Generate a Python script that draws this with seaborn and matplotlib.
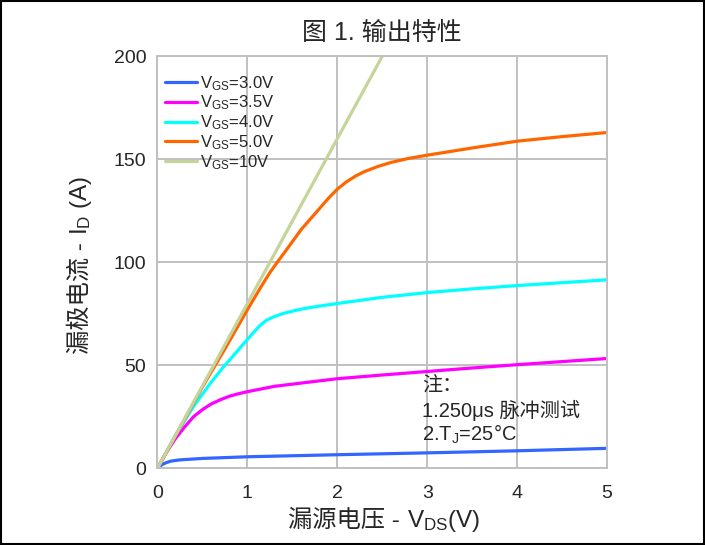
import matplotlib
matplotlib.use("Agg")
import matplotlib.pyplot as plt
import matplotlib.transforms as mtransforms
import numpy as np
import pandas as pd
import seaborn as sns
from matplotlib.patches import Rectangle

# 输出特性曲线数据
vgs_labels = ["3.0V", "3.5V", "4.0V", "5.0V", "10V"]

vds_30 = [0, 0.05, 0.1, 0.15, 0.25, 0.5, 1.0, 1.5, 2.0, 3.0, 4.0, 5.0]
id_30 = [0, 1.8, 2.8, 3.5, 4.1, 4.8, 5.6, 6.1, 6.6, 7.5, 8.5, 9.7]

vds_35 = [0, 0.1, 0.2, 0.3, 0.4, 0.5, 0.6, 0.7, 0.8, 0.9, 1.0, 1.3, 1.64, 2.0, 2.5, 3.0,
          3.5, 4.0, 4.5, 5.0]
id_35 = [0, 7.8, 14.5, 20, 25, 28.5, 31.3, 33.3, 35, 36.2, 37.2, 39.8, 41.6, 43.5, 45.3, 47,
         48.7, 50.3, 51.8, 53.3]

vds_40 = [0, 0.1, 0.2, 0.3, 0.4, 0.5, 0.6, 0.73, 0.87, 1.0, 1.07, 1.14, 1.21, 1.29, 1.4, 1.51,
          1.65, 1.81, 2.0, 2.5, 3.0, 3.5, 4.0, 4.5, 5.0]
id_40 = [0, 8, 16, 23, 30, 36, 42, 49, 56, 62.6, 66, 69.3, 71.8, 73.5, 75.2, 76.4,
         77.7, 78.8, 80, 83, 85.3, 87.1, 88.7, 90.1, 91.5]

vds_50 = [0, 0.5, 0.75, 1.0, 1.15, 1.25, 1.34, 1.45, 1.5, 1.6, 1.7, 1.8, 1.9, 2.0, 2.1,
          2.2, 2.3, 2.45, 2.6, 2.8, 3.0, 3.5, 4.0, 4.5, 5.0]
id_50 = [0, 39.5, 58, 77, 88, 95, 100.5, 107, 110, 116, 121, 126, 131, 135.5, 139,
         141.8, 144, 146.5, 148.5, 150.5, 152, 155.5, 158.8, 161, 163]

vds_10 = [0, 2.5]
id_10 = [0, 200]

colors = {"3.0V": "#3366ff", "3.5V": "#ff00ff", "4.0V": "#00ffff",
          "5.0V": "#ff6600", "10V": "#c4d49a"}

frames = []
for lab, xs, ys in zip(vgs_labels,
                       [vds_30, vds_35, vds_40, vds_50, vds_10],
                       [id_30, id_35, id_40, id_50, id_10]):
    frames.append(pd.DataFrame({"VDS": xs, "ID": ys, "VGS": lab}))
df = pd.concat(frames, ignore_index=True)

sns.set_style("white")
FONTS = ['Liberation Sans', 'Noto Sans CJK SC', 'DejaVu Sans']
plt.rcParams['font.family'] = FONTS
plt.rcParams['mathtext.fontset'] = 'custom'
plt.rcParams['mathtext.rm'] = 'Liberation Sans'
plt.rcParams['mathtext.it'] = 'Liberation Sans'


def mixed_text(fig, pieces, cx, cy, rotation=0, fontsize=16):
    """中文部分和数学文本部分分开绘制，按像素位置拼接"""
    renderer = fig.canvas.get_renderer()
    ident = mtransforms.IdentityTransform()
    texts, widths = [], []
    for s in pieces:
        t = fig.text(0, 0, s, rotation=rotation, rotation_mode='anchor',
                     ha='left', va='baseline', transform=ident, fontsize=fontsize)
        bb = t.get_window_extent(renderer)
        widths.append(bb.width if rotation == 0 else bb.height)
        texts.append(t)
    pos = -sum(widths) / 2
    for t, w in zip(texts, widths):
        if rotation == 0:
            t.set_position((cx + pos, cy))
        else:
            t.set_position((cx, cy + pos))
        pos += w


fig = plt.figure(figsize=(7.05, 5.45), dpi=100)
ax = fig.add_axes([0.2234, 0.1407, 0.6376, 0.7560])

sns.lineplot(data=df, x="VDS", y="ID", hue="VGS", hue_order=vgs_labels,
             palette=colors, estimator=None, linewidth=2.3, ax=ax)

ax.set_xlim(0, 5)
ax.set_ylim(0, 200)
ax.set_xticks([0, 1, 2, 3, 4, 5])
ax.set_yticks([0, 50, 100, 150, 200])
ax.grid(True, color="#c0c0c0", linewidth=1.4)
ax.set_axisbelow(True)
for sp in ax.spines.values():
    sp.set_color("#c0c0c0")
    sp.set_linewidth(1.4)
ax.tick_params(axis="y", length=4, color="#c0c0c0", labelsize=14, pad=4)
ax.tick_params(axis="x", length=0, labelsize=14, pad=12)
ax.set_xlabel("")
ax.set_ylabel("")
ax.set_title("图 1. 输出特性", fontsize=18, pad=12)

handles, _ = ax.get_legend_handles_labels()
leg_labels = [r"V$_{\mathrm{GS}}$=" + v for v in vgs_labels]
ax.legend(handles, leg_labels, loc="upper left", bbox_to_anchor=(0.0167, 0.957),
          frameon=False, fontsize=12, handlelength=1.9, labelspacing=0.06,
          handletextpad=0.2, borderpad=0, borderaxespad=0)

# 注释
ax.text(2.94, 40.4, "注：", fontsize=14.5, va="center")
ax.text(2.94, 28.3, "1.250μs 脉冲测试", fontsize=14.5, va="center")
ax.text(2.94, 16.7, r"2.T$_{\mathrm{J}}$=25°C", fontsize=14.5, va="center")

# 坐标轴标签
mixed_text(fig, ["漏源电压 - ", r"V$_{\mathrm{DS}}$(V)"], 384.5, 18.5, fontsize=17.5)
mixed_text(fig, ["漏极电流 - ", r"I$_{\mathrm{D}}$ (A)"], 87, 280, rotation=90, fontsize=17.5)

fig.patches.append(Rectangle((0.002, 0.002), 0.996, 0.996, transform=fig.transFigure,
                             fill=False, edgecolor="black", linewidth=1.5))

fig.savefig("out.png", dpi=100)
